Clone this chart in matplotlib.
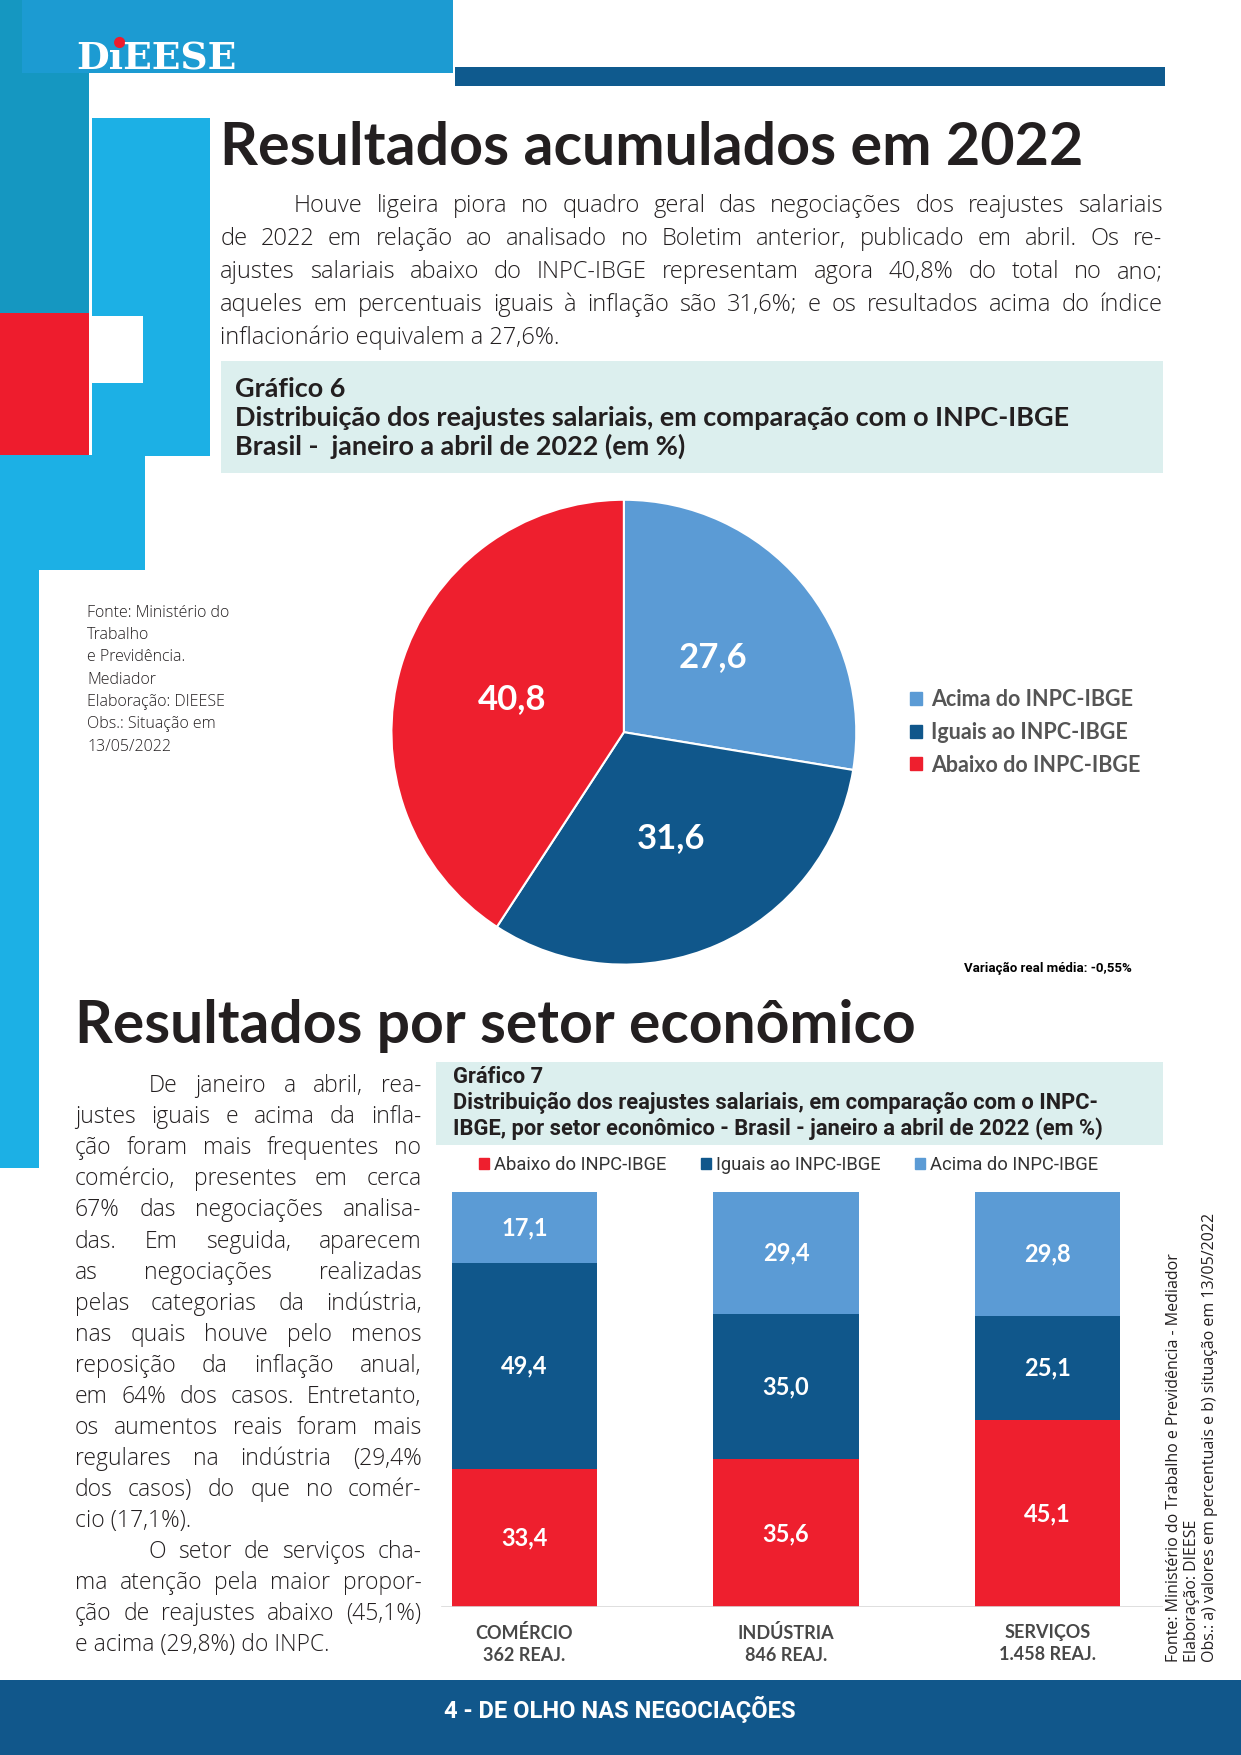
import matplotlib
matplotlib.use("Agg")
import matplotlib.pyplot as plt
from matplotlib.patches import Rectangle, Circle, Patch
from matplotlib import font_manager

# page drawn in these units (x right, y down)
W, H = 1110, 1570

pie_labels = ["Acima do INPC-IBGE", "Iguais ao INPC-IBGE", "Abaixo do INPC-IBGE"]
pie_values = [27.6, 31.6, 40.8]

sectors = ["COMÉRCIO\n362 REAJ.", "INDÚSTRIA\n846 REAJ.", "SERVIÇOS\n1.458 REAJ."]
abaixo = [33.4, 35.6, 45.1]
iguais = [49.4, 35.0, 25.1]
acima = [17.1, 29.4, 29.8]

LIGHT = "#5b9bd5"
DARK = "#10578b"
RED = "#ee1f2e"
TEAL = "#dcefee"
INK = "#231f20"

names = {f.name for f in font_manager.fontManager.ttflist}
NARROW = "Liberation Sans Narrow" if "Liberation Sans Narrow" in names else "Roboto"
BODY = "Lato"
TEXT = "Open Sans"

fig = plt.figure(figsize=(12.41, 17.55), dpi=100)
ax = fig.add_axes([0, 0, 1, 1])
ax.set_xlim(0, W)
ax.set_ylim(H, 0)
ax.axis("off")
renderer = fig.canvas.get_renderer()
PX = 1241 / W


def rect(x0, y0, x1, y1, color):
    ax.add_patch(Rectangle((x0, y0), x1 - x0, y1 - y0, color=color, lw=0))


def width_of(s, size, **kw):
    t = ax.text(0, 0, s, fontsize=size, **kw)
    w = t.get_window_extent(renderer).width / PX
    t.remove()
    return w


def fit(x, y, s, width, size=12, **kw):
    t = ax.text(x, y, s, fontsize=size, **kw)
    w = t.get_window_extent(renderer).width / PX
    t.set_fontsize(size * width / w)
    return t


def justify(lines, x0, x1, y0, dy, maxsize, indent=0, indents=(), last=(), **kw):
    # size so the tightest justified line fits with normal spacing
    ratios = []
    for i, line in enumerate(lines):
        if i in last:
            continue
        start = x0 + (indent if i in indents else 0)
        ratios.append((x1 - start) / width_of(line, 12, **kw))
    size = min(maxsize, 12 * min(ratios))
    for i, line in enumerate(lines):
        y = y0 + i * dy
        start = x0 + (indent if i in indents else 0)
        if i in last:
            ax.text(start, y, line, fontsize=size, **kw)
            continue
        words = line.split()
        arts = [ax.text(0, y, w_, fontsize=size, **kw) for w_ in words]
        widths = [a.get_window_extent(renderer).width / PX for a in arts]
        gap = (x1 - start - sum(widths)) / (len(words) - 1)
        x = start
        for a, w_ in zip(arts, widths):
            a.set_x(x)
            x += w_ + gap


# decorative blocks
rect(0, 0, 80, 280, "#1597c1")
rect(20, 0, 405, 65, "#1c9bd2")
rect(82, 106, 188, 408, "#1cb0e5")
rect(0, 280, 80, 407, "#ee1c2d")
rect(82, 283, 128, 343, "white")
rect(0, 407, 130, 510, "#1cb0e5")
rect(0, 510, 35, 1045, "#1cb0e5")
rect(407, 60, 1042, 77, "#0f5a8e")

# logo
fit(68, 62, "D\u0131EESE", 144, color="white", family="DejaVu Serif",
    fontweight="bold", va="baseline")
ax.add_patch(Circle((107, 38), 5, color="#ee1c2d", lw=0))

# titles
fit(197, 148, "Resultados acumulados em 2022", 768, family=BODY,
    fontweight="bold", color=INK, va="baseline")
fit(67, 933, "Resultados por setor econômico", 748, family=BODY,
    fontweight="bold", color=INK, va="baseline")

para1 = [
    "Houve ligeira piora no quadro geral das negociações dos reajustes salariais",
    "de 2022 em relação ao analisado no Boletim anterior, publicado em abril. Os re-",
    "ajustes salariais abaixo do INPC-IBGE representam agora 40,8% do total no ano;",
    "aqueles em percentuais iguais à inflação são 31,6%; e os resultados acima do índice",
    "inflacionário equivalem a 27,6%.",
]
justify(para1, 197, 1040, 190, 29.5, 17, indent=66, indents=(0,), last=(4,),
        family=TEXT, fontweight=300, color=INK, va="baseline")

para2 = [
    "De janeiro a abril, rea-",
    "justes iguais e acima da infla-",
    "ção foram mais frequentes no",
    "comércio, presentes em cerca",
    "67% das negociações analisa-",
    "das. Em seguida, aparecem",
    "as negociações realizadas",
    "pelas categorias da indústria,",
    "nas quais houve pelo menos",
    "reposição  da inflação anual,",
    "em 64% dos casos. Entretanto,",
    "os aumentos reais foram mais",
    "regulares na indústria (29,4%",
    "dos casos) do que no comér-",
    "cio (17,1%).",
    "O setor de serviços cha-",
    "ma atenção pela maior propor-",
    "ção de reajustes abaixo (45,1%)",
    "e acima (29,8%) do INPC.",
]
justify(para2, 67, 377, 977, 27.8, 16.5, indent=66, indents=(0, 15), last=(14, 18),
        family=TEXT, fontweight=300, color=INK, va="baseline")

# grafico 6 header box
rect(198, 323, 1040, 423, TEAL)
t = fit(210, 381, "Distribuição dos reajustes salariais, em comparação com o INPC-IBGE",
        743, family=BODY, fontweight="bold", color=INK, va="baseline")
s6 = t.get_fontsize()
ax.text(210, 355, "Gráfico 6", fontsize=s6, family=BODY, fontweight="bold",
        color=INK, va="baseline")
ax.text(210, 407, "Brasil -  janeiro a abril de 2022 (em %)", fontsize=s6, family=BODY,
        fontweight="bold", color=INK, va="baseline")

# source note by the pie
fonte = ["Fonte: Ministério do", "Trabalho", "e Previdência.", "Mediador",
         "Elaboração: DIEESE", "Obs.: Situação em", "13/05/2022"]
for i, line in enumerate(fonte):
    ax.text(78, 548 + i * 20, line, fontsize=11.5, family=TEXT, fontweight=300,
            color=INK, va="center")

ax.text(1012, 866, "Variação real média: -0,55%", fontsize=9.5, family=NARROW,
        fontweight="bold", color="black", ha="right", va="center")

# pie
ax_p = fig.add_axes([348 / W, 1 - 865 / H, 420 / W, 420 / H])
ax_p.pie(pie_values, colors=[LIGHT, DARK, RED], startangle=90, counterclock=False,
         wedgeprops=dict(edgecolor="white", linewidth=1.5), pctdistance=0.5,
         autopct=lambda p: f"{p:.1f}".replace(".", ","),
         textprops=dict(color="white", fontsize=25, fontweight="bold", family=BODY))
ax_p.set_xlim(-1.01, 1.01)
ax_p.set_ylim(-1.01, 1.01)
ax_p.set_aspect("equal")
ax_p.axis("off")
handles = [Patch(color=c) for c in [LIGHT, DARK, RED]]
leg = fig.legend(handles, pie_labels, loc="center left",
                 bbox_to_anchor=(797 / W, 1 - 655 / H), frameon=False,
                 handlelength=0.55, handleheight=0.55, handletextpad=0.4,
                 labelspacing=0.55, prop=dict(family=BODY, weight="bold", size=15.5))
for txt in leg.get_texts():
    txt.set_color("#555555")

# grafico 7 header box
rect(390, 950, 1040, 1024, TEAL)
t = fit(405, 992, "Distribuição dos reajustes salariais, em comparação com o INPC-",
        575, family=NARROW, fontweight="bold", color=INK, va="baseline")
s7 = t.get_fontsize()
ax.text(405, 969, "Gráfico 7", fontsize=s7, family=NARROW, fontweight="bold",
        color=INK, va="baseline")
ax.text(405, 1015, "IBGE, por setor econômico - Brasil - janeiro a abril de 2022 (em %)",
        fontsize=s7, family=NARROW, fontweight="bold", color=INK, va="baseline")

# stacked bars
ax_b = fig.add_axes([390 / W, 1 - 1438 / H, 650 / W, 372 / H])
ax_b.patch.set_alpha(0)
x = range(len(sectors))
fmt = lambda vals: [f"{v:.1f}".replace(".", ",") for v in vals]
bottom = [0] * len(sectors)
for vals, col in [(abaixo, RED), (iguais, DARK), (acima, LIGHT)]:
    bars = ax_b.bar(x, vals, width=0.555, bottom=bottom, color=col, lw=0)
    ax_b.bar_label(bars, labels=fmt(vals), label_type="center", color="white",
                   fontsize=17, fontweight="bold", family=BODY)
    bottom = [b + v for b, v in zip(bottom, vals)]
ax_b.set_xlim(-0.338, 2.44)
ax_b.set_ylim(0, 100)
ax_b.axhline(0, xmin=5 / 650, xmax=1, color="#d9d9d9", lw=1.2)
for sp in ax_b.spines.values():
    sp.set_visible(False)
ax_b.set_yticks([])
ax_b.set_xticks(list(x), sectors)
ax_b.tick_params(axis="x", length=0, pad=12)
for lab in ax_b.get_xticklabels():
    lab.set_fontsize(13)
    lab.set_fontweight("bold")
    lab.set_family(BODY)
    lab.set_color("#484848")
    lab.set_linespacing(1.35)
bleg = ax_b.legend([Patch(color=c) for c in [RED, DARK, LIGHT]],
                   ["Abaixo do INPC-IBGE", "Iguais ao INPC-IBGE", "Acima do INPC-IBGE"],
                   loc="center", bbox_to_anchor=(0.485, 1 + 24 / 372), ncol=3,
                   frameon=False, handlelength=0.55, handleheight=0.55,
                   handletextpad=0.25, columnspacing=1.9,
                   prop=dict(family=NARROW, size=13.2))
for txt in bleg.get_texts():
    txt.set_color("#333333")

# rotated source at right
notes = ["Fonte: Ministério do Trabalho e Previdência - Mediador",
         "Elaboração: DIEESE",
         "Obs.: a) valores em percentuais e b) situação em 13/05/2022"]
t = fit(1082, 1487, notes[2], 399, family=TEXT, color=INK, va="center")
sn = t.get_fontsize()
t.set_rotation(90)
t.set_rotation_mode("anchor")
for xx, s in zip([1050, 1066], notes[:2]):
    ax.text(xx, 1487, s, fontsize=sn, family=TEXT, color=INK, va="center",
            rotation=90, rotation_mode="anchor")

# footer
rect(0, 1503, W, H, "#11578b")
fit(397, 1537, "4 - DE OLHO NAS NEGOCIAÇÕES", 316, family=NARROW, fontweight="bold",
    color="white", va="baseline")

fig.savefig("out.png", dpi=100)
